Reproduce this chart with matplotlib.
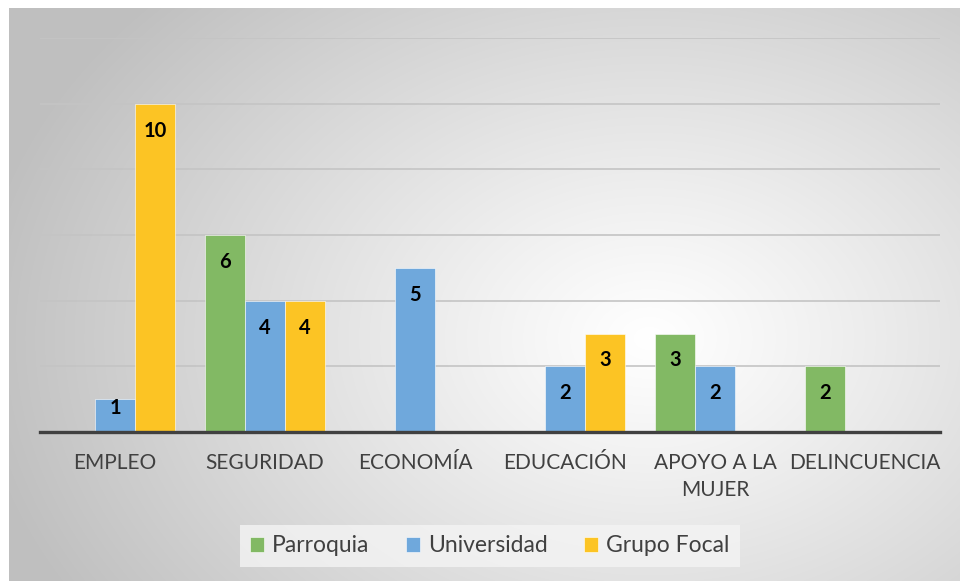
import numpy as np
import matplotlib
matplotlib.use('Agg')
import matplotlib.pyplot as plt

categories = ['EMPLEO', 'SEGURIDAD', 'ECONOMÍA', 'EDUCACIÓN', 'APOYO A LA\nMUJER', 'DELINCUENCIA']
series_names = ['Parroquia', 'Universidad', 'Grupo Focal']
parroquia = [0, 6, 0, 0, 3, 2]
universidad = [1, 4, 5, 2, 2, 0]
grupo_focal = [10, 4, 0, 3, 0, 0]
colors = ['#82B964', '#6FA8DC', '#FCC424']

plt.rcParams['font.family'] = ['Lato', 'DejaVu Sans']

W, H = 960, 581
fig = plt.figure(figsize=(W / 100, H / 100), dpi=100)
fig.patch.set_facecolor('white')

# radial gradient background of the chart area
bg = fig.add_axes([9 / W, 0, (W - 9) / W, (H - 8) / H])
bg.set_axis_off()
yy, xx = np.mgrid[0:H - 8, 0:W - 9]
cx, cy = 640, 330
d = np.sqrt(((xx - cx) / 680.0) ** 2 + ((yy - cy) / 500.0) ** 2)
d = np.clip(d, 0, 1)
shade = 1.0 - 0.25 * d ** 1.1
img = np.dstack([shade, shade, shade])
bg.imshow(img, aspect='auto', interpolation='bilinear')

ax = fig.add_axes([40 / W, (H - 432) / H, 900 / W, (432 - 38) / H])
ax.set_facecolor('none')
ax.set_xlim(-0.5, len(categories) - 0.5)
ax.set_ylim(0, 12)

x = np.arange(len(categories))
bw = 0.8 / 3
data = [parroquia, universidad, grupo_focal]
for i, (vals, name, c) in enumerate(zip(data, series_names, colors)):
    pos = x + (i - 1) * bw
    ax.bar(pos, vals, width=bw, color=c, label=name, zorder=3,
           edgecolor='white', linewidth=0.4)
    for p, v in zip(pos, vals):
        if v == 0:
            continue
        ty = v - 0.82 if v > 1.5 else v - 0.27
        ax.text(p, ty, str(v), ha='center', va='center', fontsize=14.5,
                fontweight='bold', color='black', zorder=4)

ax.set_yticks([2, 4, 6, 8, 10, 12])
ax.yaxis.grid(True, color='#C4C4C4', linewidth=1.2, zorder=0)
ax.tick_params(axis='y', left=False, labelleft=False)
ax.set_xticks(x)
ax.set_xticklabels(categories, fontsize=15, color='#404040', linespacing=1.45)
ax.tick_params(axis='x', length=0, pad=15)
for s in ['top', 'right', 'left']:
    ax.spines[s].set_visible(False)
ax.spines['bottom'].set_color('#404040')
ax.spines['bottom'].set_linewidth(2.4)
ax.spines['bottom'].set_zorder(5)

leg = fig.legend(loc='center', bbox_to_anchor=(490 / W, 1 - 546 / H), ncol=3,
                 fontsize=16.5, frameon=True, handlelength=0.6, handleheight=0.6,
                 handletextpad=0.35, columnspacing=1.6, borderpad=0.45,
                 labelcolor='#404040')
leg.get_frame().set_facecolor('#F4F4F4')
leg.get_frame().set_edgecolor('none')
leg.get_frame().set_boxstyle('square', pad=0.0)

fig.savefig('out.png', dpi=100)
